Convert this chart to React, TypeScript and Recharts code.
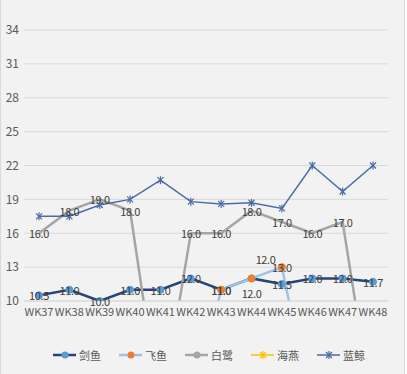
import React from 'react';
import { LineChart, Line, XAxis, YAxis, CartesianGrid, LabelList } from 'recharts';

const weeks = ['WK37', 'WK38', 'WK39', 'WK40', 'WK41', 'WK42', 'WK43', 'WK44', 'WK45', 'WK46', 'WK47', 'WK48'];
const seriesNames = ['剑鱼', '飞鱼', '白鹭', '海燕', '蓝鲸'];
const jianyu = [10.5, 11.0, 10.0, 11.0, 11.0, 12.0, 11.0, 12.0, 11.5, 12.0, 12.0, 11.7];
const feiyu = [0, 0, 0, 0, 0, 0, 11.0, 12.0, 13.0, 0, 0, 0];
const bailu = [16.0, 18.0, 19.0, 18.0, 0, 16.0, 16.0, 18.0, 17.0, 16.0, 17.0, 0];
const haiyan: (number | null)[] = [null, null, null, null, null, null, null, null, null, null, null, null];
const lanjing = [17.5, 17.5, 18.5, 19.0, 20.7, 18.8, 18.6, 18.7, 18.2, 22.0, 19.7, 22.0];
const yTicks = [10, 13, 16, 19, 22, 25, 28, 31, 34];

const data = weeks.map((week, i) => ({
  week,
  jianyu: jianyu[i],
  feiyu: feiyu[i],
  bailu: bailu[i],
  haiyan: haiyan[i],
  lanjing: lanjing[i],
}));

const FONT = '"Microsoft YaHei", "Noto Sans CJK SC", "Noto Sans", sans-serif';

const colors = {
  jianyu: '#264478',
  jianyuDot: '#5B9BD5',
  feiyu: '#9DC3E6',
  feiyuDot: '#ED7D31',
  bailu: '#A5A5A5',
  haiyan: '#FFC000',
  lanjing: '#4A6CA5',
};

// label renderer, skips values that fall under the axis
const makeLabel = (offsets: Record<number, [number, number]>) => (props: any) => {
  const { value, index } = props;
  const x = props.x ?? props.viewBox?.x;
  const y = props.y ?? props.viewBox?.y;
  if (value == null || value < 10 || x == null || y == null) return null;
  const [dx, dy] = offsets[index] || [0, 0];
  return (
    <text
      x={x + dx}
      y={y + dy}
      textAnchor="middle"
      dominantBaseline="central"
      fontSize={11}
      letterSpacing={-0.4}
      fill="#404040"
      fontFamily={FONT}
    >
      {Number(value).toFixed(1)}
    </text>
  );
};

const Asterisk = (props: any) => {
  const { cx, cy, stroke, index } = props;
  if (cx == null || cy == null) return <g key={`a-${index}`} />;
  return (
    <g key={`a-${index}`} stroke={stroke} strokeWidth={1.2}>
      <line x1={cx - 3} y1={cy - 3} x2={cx + 3} y2={cy + 3} />
      <line x1={cx - 3} y1={cy + 3} x2={cx + 3} y2={cy - 3} />
      <line x1={cx} y1={cy - 4} x2={cx} y2={cy + 4} />
    </g>
  );
};

const legendItems = [
  { name: seriesNames[0], line: colors.jianyu, marker: 'circle', mark: colors.jianyuDot },
  { name: seriesNames[1], line: colors.feiyu, marker: 'circle', mark: colors.feiyuDot },
  { name: seriesNames[2], line: colors.bailu, marker: 'circle', mark: colors.bailu },
  { name: seriesNames[3], line: colors.haiyan, marker: 'x', mark: colors.haiyan },
  { name: seriesNames[4], line: colors.lanjing, marker: 'x', mark: colors.lanjing },
];

const ChartLegend = () => (
  <div
    style={{
      position: 'absolute',
      left: 52,
      top: 347,
      display: 'flex',
      alignItems: 'center',
      gap: 18,
      fontFamily: FONT,
      fontSize: 11,
      color: '#595959',
    }}
  >
    {legendItems.map((it) => (
      <div key={it.name} style={{ display: 'flex', alignItems: 'center' }}>
        <svg width={23} height={16}>
          <line x1={0} y1={8} x2={23} y2={8} stroke={it.line} strokeWidth={it.marker === 'x' ? 1.5 : 2.5} />
          {it.marker === 'circle' ? (
            <circle cx={12} cy={8} r={3.5} fill={it.mark} />
          ) : (
            <Asterisk cx={12} cy={8} stroke={it.mark} index={0} />
          )}
        </svg>
        <span style={{ marginLeft: 3, lineHeight: '16px' }}>{it.name}</span>
      </div>
    ))}
  </div>
);

export default function App() {
  return (
    <div
      style={{
        position: 'absolute',
        left: 0,
        top: 0,
        width: 403,
        height: 374,
        background: '#F2F2F2',
        borderLeft: '1px solid #D9D9D9',
        borderRight: '1px solid #D9D9D9',
      }}
    >
      <LineChart width={403} height={374} data={data} margin={{ top: 30, right: 16, left: 3, bottom: 43 }}>
        <CartesianGrid vertical={false} stroke="#D9D9D9" />
        <XAxis
          dataKey="week"
          height={30}
          padding={{ left: 15, right: 15 }}
          tickLine={false}
          tickSize={0}
          tickMargin={7}
          axisLine={{ stroke: '#D9D9D9' }}
          interval={0}
          tick={{ fontSize: 11, fill: '#595959', fontFamily: FONT }}
        />
        <YAxis
          width={20}
          domain={[10, 34]}
          ticks={yTicks}
          allowDataOverflow
          axisLine={false}
          tickLine={false}
          tickSize={0}
          tickMargin={5}
          tick={{ fontSize: 12, fill: '#595959', fontFamily: FONT }}
        />
        <Line
          dataKey="jianyu"
          name={seriesNames[0]}
          type="linear"
          stroke={colors.jianyu}
          strokeWidth={2.5}
          dot={{ r: 3.5, fill: colors.jianyuDot, stroke: colors.jianyuDot, strokeWidth: 1 }}
          activeDot={false}
          isAnimationActive={false}
        />
        <Line
          dataKey="feiyu"
          name={seriesNames[1]}
          type="linear"
          stroke={colors.feiyu}
          strokeWidth={2.5}
          dot={{ r: 3.5, fill: colors.feiyuDot, stroke: colors.feiyuDot, strokeWidth: 1 }}
          activeDot={false}
          isAnimationActive={false}
        />
        <Line
          dataKey="bailu"
          name={seriesNames[2]}
          type="linear"
          stroke={colors.bailu}
          strokeWidth={2.5}
          dot={false}
          activeDot={false}
          isAnimationActive={false}
        />
        <Line
          dataKey="haiyan"
          name={seriesNames[3]}
          type="linear"
          stroke={colors.haiyan}
          strokeWidth={1.5}
          dot={false}
          activeDot={false}
          isAnimationActive={false}
        />
        <Line
          dataKey="lanjing"
          name={seriesNames[4]}
          type="linear"
          stroke={colors.lanjing}
          strokeWidth={1.5}
          dot={(p: any) => <Asterisk key={`lj-${p.index}`} {...p} stroke={colors.lanjing} />}
          activeDot={false}
          isAnimationActive={false}
        />
        {/* label layers drawn last so text sits above every line */}
        <Line dataKey="jianyu" stroke="none" dot={false} activeDot={false} legendType="none" isAnimationActive={false}>
          <LabelList dataKey="jianyu" content={makeLabel({ 7: [0, 15] })} />
        </Line>
        <Line dataKey="feiyu" stroke="none" dot={false} activeDot={false} legendType="none" isAnimationActive={false}>
          <LabelList dataKey="feiyu" content={makeLabel({ 7: [14, -19] })} />
        </Line>
        <Line dataKey="bailu" stroke="none" dot={false} activeDot={false} legendType="none" isAnimationActive={false}>
          <LabelList dataKey="bailu" content={makeLabel({})} />
        </Line>
      </LineChart>
      <ChartLegend />
    </div>
  );
}
